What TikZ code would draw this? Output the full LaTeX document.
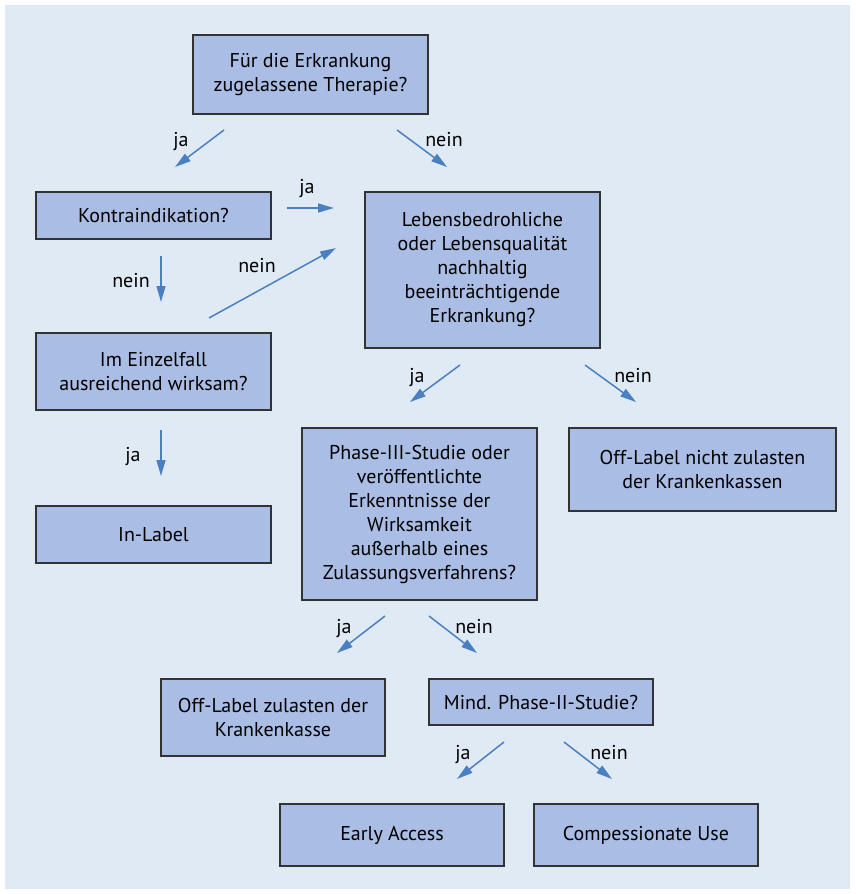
\documentclass[tikz,border=0pt]{standalone}
\usepackage{fontspec}
\setmainfont{PT Sans}
\usetikzlibrary{arrows.meta,positioning}
\definecolor{mybg}{RGB}{224,234,244}
\definecolor{myboxblue}{RGB}{170,189,229}
\definecolor{myarrowblue}{RGB}{74,128,194}
\definecolor{myframe}{RGB}{51,51,51}
\tikzstyle{box}=[draw=myframe,fill=myboxblue,line width=1.3pt,align=center,inner sep=0pt,font=\fontsize{20}{24}\selectfont]
\tikzstyle{lbl}=[anchor=base,inner sep=0pt,font=\fontsize{20}{24}\selectfont]
\tikzstyle{pfeil}=[myarrowblue,line width=1.5pt,-{Triangle[length=16pt,width=9pt]}]
\begin{document}
\begin{tikzpicture}[x=1pt,y=-1pt]
\useasboundingbox (0,0) rectangle (855,894);
\fill[mybg] (5,5) rectangle (850,889);
\node[box,minimum width=235pt,minimum height=79pt] (frage) at (310.5,74.5) {Für die Erkrankung\\zugelassene Therapie?};
\node[box,minimum width=235pt,minimum height=47pt] (kontra) at (153.5,215.5) {Kontraindikation?};
\node[box,minimum width=235pt,minimum height=156pt] (leben) at (482.5,270) {Lebensbedrohliche\\oder Lebensqualität\\nachhaltig\\beeinträchtigende\\Erkrankung?};
\node[box,minimum width=235pt,minimum height=77pt] (einzel) at (153.5,371.5) {Im Einzelfall\\ausreichend wirksam?};
\node[box,minimum width=235pt,minimum height=57pt] (inlabel) at (153.5,534.5) {In-Label};
\node[box,minimum width=235pt,minimum height=172pt] (phase3) at (419.5,514) {Phase-III-Studie oder\\veröffentlichte\\Erkenntnisse der\\Wirksamkeit\\außerhalb eines\\Zulassungsverfahrens?};
\node[box,minimum width=267pt,minimum height=83pt] (offnicht) at (702.5,469.5) {Off-Label nicht zulasten\\der Krankenkassen};
\node[box,minimum width=224pt,minimum height=77pt] (offzul) at (273,717.5) {Off-Label zulasten der\\Krankenkasse};
\node[box,minimum width=224pt,minimum height=46pt] (mind) at (541,702) {Mind. Phase-II-Studie?};
\node[box,minimum width=224pt,minimum height=62pt] (early) at (392,835) {Early Access};
\node[box,minimum width=224pt,minimum height=62pt] (compass) at (646,835) {Compessionate Use};
\coordinate (a1s) at (224,130); \coordinate (a1e) at (175,167);
\coordinate (a2s) at (397,130); \coordinate (a2e) at (447,167);
\coordinate (a3s) at (287,208); \coordinate (a3e) at (334,208);
\coordinate (a4s) at (161,256); \coordinate (a4e) at (161,302);
\coordinate (a5s) at (209,318); \coordinate (a5e) at (336,248);
\coordinate (a6s) at (161,430); \coordinate (a6e) at (161,476);
\coordinate (a7s) at (460,365); \coordinate (a7e) at (410,402);
\coordinate (a8s) at (585,365); \coordinate (a8e) at (636,402);
\coordinate (a9s) at (385,616); \coordinate (a9e) at (337,653);
\coordinate (a10s) at (429,616); \coordinate (a10e) at (477,653);
\coordinate (a11s) at (504,742); \coordinate (a11e) at (457,779);
\coordinate (a12s) at (564,742); \coordinate (a12e) at (612,779);
\draw[pfeil] (a1s) -- (a1e);
\draw[pfeil] (a2s) -- (a2e);
\draw[pfeil] (a3s) -- (a3e);
\draw[pfeil] (a4s) -- (a4e);
\draw[pfeil] (a5s) -- (a5e);
\draw[pfeil] (a6s) -- (a6e);
\draw[pfeil] (a7s) -- (a7e);
\draw[pfeil] (a8s) -- (a8e);
\draw[pfeil] (a9s) -- (a9e);
\draw[pfeil] (a10s) -- (a10e);
\draw[pfeil] (a11s) -- (a11e);
\draw[pfeil] (a12s) -- (a12e);
\node[lbl] (l1) at (181,146) {ja};
\node[lbl] (l2) at (444,146) {nein};
\node[lbl] (l3) at (307,193) {ja};
\node[lbl] (l4) at (131,287) {nein};
\node[lbl] (l5) at (257,272) {nein};
\node[lbl] (l6) at (133,461) {ja};
\node[lbl] (l7) at (417,382) {ja};
\node[lbl] (l8) at (633,382) {nein};
\node[lbl] (l9) at (344,633) {ja};
\node[lbl] (l10) at (474,633) {nein};
\node[lbl] (l11) at (463,759) {ja};
\node[lbl] (l12) at (609,759) {nein};
\end{tikzpicture}
\end{document}
